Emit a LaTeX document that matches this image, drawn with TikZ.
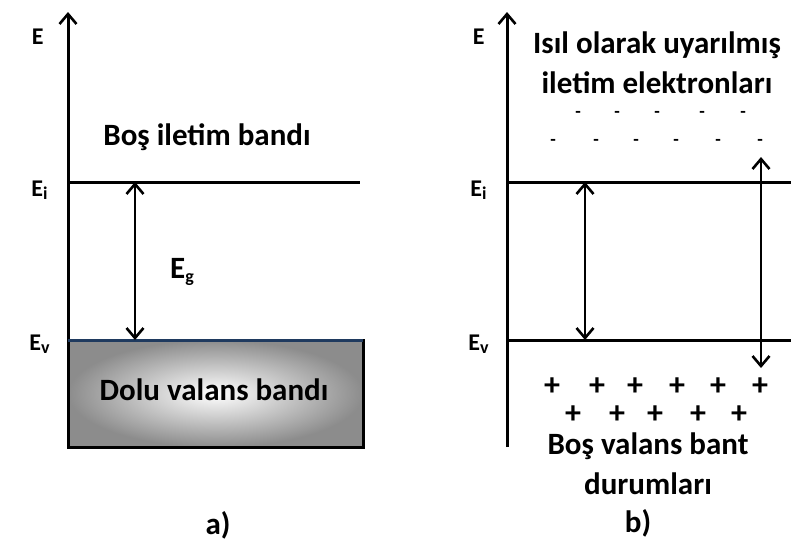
\documentclass[tikz,border=0pt]{standalone}
\usepackage{fontspec}
\setmainfont{Carlito}
\usetikzlibrary{arrows.meta,positioning}
\definecolor{BandGray}{HTML}{8C8C8C}
\definecolor{EdgeBlue}{HTML}{1F3A5F}
\newcommand{\lvlsub}[1]{\raisebox{-0.3ex}{\fontsize{9}{9}\selectfont #1}}

\begin{document}
\begin{tikzpicture}[x=0.5pt,y=-0.5pt,
    font=\bfseries\fontsize{15.5}{20}\selectfont,
    barb/.tip={Straight Barb[length=5pt,width=8.5pt,line width=1.3pt]},
    axis/.style={line width=1.5pt,-barb},
    lvl/.style={line width=1.5pt},
    gap/.style={line width=1.3pt,barb-barb},
    elab/.style={anchor=east,inner sep=0pt,font=\bfseries\fontsize{12}{14}\selectfont},
    txt/.style={align=center,inner sep=0pt},
    elechg/.style={inner sep=0pt,font=\bfseries\fontsize{9}{9}\selectfont},
    holechg/.style={inner sep=0pt,font=\bfseries\fontsize{16}{16}\selectfont}]
  \useasboundingbox (0,0) rectangle (791,542);

  % a) intrinsic at 0 K
  \coordinate (axA0) at (68,447);
  \coordinate (axA1) at (68,12);
  \draw[axis] (axA0) -- (axA1);
  \node[elab] (EA) at (44,37) {E};
  \node[elab] (EiA) at (48,190) {E\lvlsub{i}};
  \node[elab] (EvA) at (50,344) {E\lvlsub{v}};
  \coordinate (ciA0) at (68,182);
  \coordinate (ciA1) at (360,182);
  \draw[lvl] (ciA0) -- (ciA1);
  \node[txt] (condA) at (207,137) {Boş iletim bandı};
  \shade[inner color=white,outer color=BandGray] (68,340) rectangle (363,447);
  \draw[line width=1.5pt] (68,340) rectangle (363,447);
  \draw[EdgeBlue,line width=1.5pt] (68,340) -- (363,340);
  \node[txt] (valA) at (214,390) {Dolu valans bandı};
  \coordinate (gA0) at (135,182);
  \coordinate (gA1) at (135,340);
  \draw[gap] (gA0) -- (gA1);
  \node[txt] (Eg) at (182,272) {E\lvlsub{g}};
  \node[txt] (capA) at (218,525) {a)};

  % b) at T > 0
  \coordinate (axB0) at (507,447);
  \coordinate (axB1) at (507,12);
  \draw[axis] (axB0) -- (axB1);
  \node[elab] (EB) at (485,37) {E};
  \node[elab] (EiB) at (487,190) {E\lvlsub{i}};
  \node[elab] (EvB) at (489,344) {E\lvlsub{v}};
  \coordinate (ciB0) at (507,182);
  \coordinate (ciB1) at (791,182);
  \draw[lvl] (ciB0) -- (ciB1);
  \coordinate (cvB0) at (507,340);
  \coordinate (cvB1) at (791,340);
  \draw[lvl] (cvB0) -- (cvB1);
  \node[txt] (condB) at (657,63) {Isıl olarak uyarılmış\\iletim elektronları};
  \foreach \x [count=\i] in {578,617,657,702,743}
    \node[elechg] (nA\i) at (\x,114) {-};
  \foreach \x [count=\i] in {553,596,636,676,718,760}
    \node[elechg] (nB\i) at (\x,142) {-};
  \foreach \x [count=\i] in {552,597,635,677,718,760}
    \node[holechg] (pA\i) at (\x,387) {+};
  \foreach \x [count=\i] in {573,617,655,698,739}
    \node[holechg] (pB\i) at (\x,415) {+};
  \coordinate (gB0) at (585,182);
  \coordinate (gB1) at (585,340);
  \draw[gap] (gB0) -- (gB1);
  \coordinate (gC0) at (761,157);
  \coordinate (gC1) at (761,368);
  \draw[gap] (gC0) -- (gC1);
  \node[txt] (valB) at (648,464) {Boş valans bant\\durumları};
  \node[txt] (capB) at (638,523) {b)};
\end{tikzpicture}
\end{document}
